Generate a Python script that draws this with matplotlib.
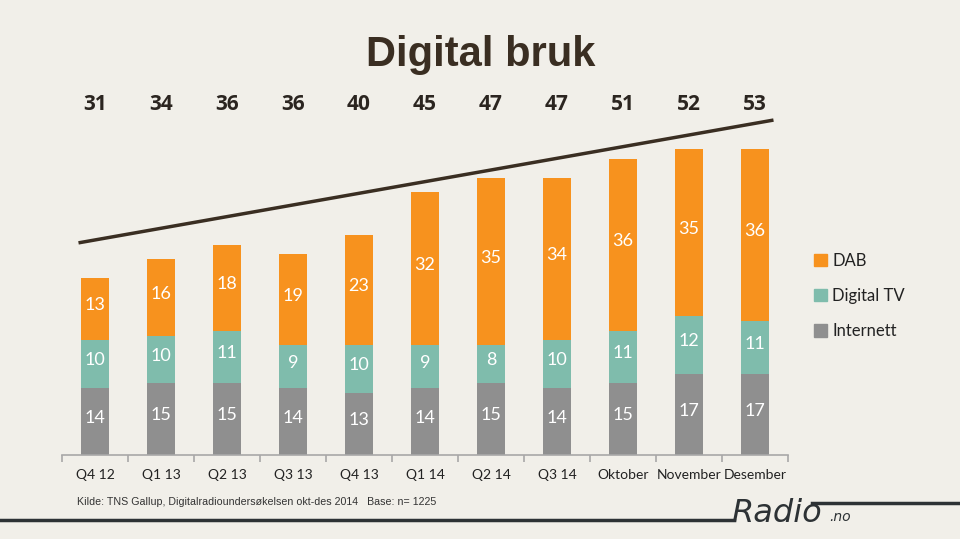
import matplotlib.pyplot as plt
import numpy as np
from matplotlib.patches import Patch
from matplotlib.lines import Line2D

categories = ['Q4 12', 'Q1 13', 'Q2 13', 'Q3 13', 'Q4 13', 'Q1 14', 'Q2 14', 'Q3 14',
              'Oktober', 'November', 'Desember']
internett = [14, 15, 15, 14, 13, 14, 15, 14, 15, 17, 17]
digital_tv = [10, 10, 11, 9, 10, 9, 8, 10, 11, 12, 11]
dab = [13, 16, 18, 19, 23, 32, 35, 34, 36, 35, 36]
totals = [31, 34, 36, 36, 40, 45, 47, 47, 51, 52, 53]

bg = '#f1efe9'
c_dab = '#f7921e'
c_tv = '#7fbcac'
c_net = '#8f8f8f'
dark = '#3a2e22'

plt.rcParams['font.family'] = ['Lato', 'DejaVu Sans']

fig = plt.figure(figsize=(9.6, 5.39), dpi=100, facecolor=bg)
W, H = 960, 539
ax = fig.add_axes([62 / W, 84 / H, 726 / W, 355 / H])
ax.set_facecolor(bg)

x = np.arange(len(categories))
bw = 0.41
net = np.array(internett)
tv = np.array(digital_tv)
db = np.array(dab)
ax.bar(x, net, bw, color=c_net, label='Internett')
ax.bar(x, tv, bw, bottom=net, color=c_tv, label='Digital TV')
ax.bar(x, db, bw, bottom=net + tv, color=c_dab, label='DAB')

for i in x:
    ax.text(i, net[i] / 2 + 0.8, str(net[i]), ha='center', va='center', color='white', fontsize=13)
    ax.text(i, net[i] + tv[i] / 2 + 0.8, str(tv[i]), ha='center', va='center', color='white', fontsize=13)
    ax.text(i, net[i] + tv[i] + db[i] / 2 + 0.8, str(db[i]), ha='center', va='center', color='white', fontsize=13)

ax.set_xlim(-0.5, len(categories) - 0.5)
ax.set_ylim(0, 74.3)
for s in ['top', 'right', 'left']:
    ax.spines[s].set_visible(False)
ax.spines['bottom'].set_color('#a8a8a8')
ax.spines['bottom'].set_linewidth(1.2)
ax.set_yticks([])
ax.set_xticks(x)
ax.set_xticklabels(categories, fontsize=10, color='#222222')
ax.tick_params(axis='x', length=0, pad=10)
ax.set_xticks(np.arange(-0.5, len(categories), 1), minor=True)
ax.tick_params(axis='x', which='minor', length=5, color='#a8a8a8', width=1.2, direction='out')

# totals row
for i, t in zip(x, totals):
    ax.text(i, 0.988, str(t), transform=ax.get_xaxis_transform(), ha='center', va='center',
            fontsize=15, fontweight='bold', color='#2b2520', family=['Open Sans', 'DejaVu Sans'])

# trend line
ax.add_line(Line2D([-0.25, 10.28], [44.4, 70.1], color=dark, lw=2.5, solid_capstyle='butt'))

fig.text(481 / W, 1 - 55 / H, 'Digital bruk', ha='center', va='center', fontsize=30,
         fontweight='bold', color=dark, family=['Liberation Sans', 'DejaVu Sans'])

handles = [Patch(color=c_dab, label='DAB'), Patch(color=c_tv, label='Digital TV'),
           Patch(color=c_net, label='Internett')]
leg = fig.legend(handles=handles, loc='upper left', bbox_to_anchor=(799 / W, 1 - 238 / H),
                 frameon=False, fontsize=12, handlelength=0.75, handleheight=0.75,
                 handletextpad=0.35, labelspacing=1.15)
for t in leg.get_texts():
    t.set_color('#222222')

fig.text(77 / W, 1 - 502 / H, 'Kilde: TNS Gallup, Digitalradioundersøkelsen okt-des 2014   Base: n= 1225',
         ha='left', va='center', fontsize=7.7, color='#333333', family=['Liberation Sans', 'DejaVu Sans'])

# Radio.no footer
logo = '#2d3235'
fig.add_artist(Line2D([0, 734 / W], [1 - 520 / H, 1 - 520 / H], color=logo, lw=2.5,
                      transform=fig.transFigure))
fig.add_artist(Line2D([812 / W, 1], [1 - 503 / H, 1 - 503 / H], color=logo, lw=2.5,
                      transform=fig.transFigure))
fig.text(731 / W, 1 - 522 / H, 'Radio', ha='left', va='baseline', fontsize=23, style='italic',
         color=logo, family=['DejaVu Sans'])
fig.text(829 / W, 1 - 521 / H, '.no', ha='left', va='baseline', fontsize=10, style='italic',
         color=logo, family=['DejaVu Sans'])

fig.savefig('out.png', dpi=100, facecolor=bg)
